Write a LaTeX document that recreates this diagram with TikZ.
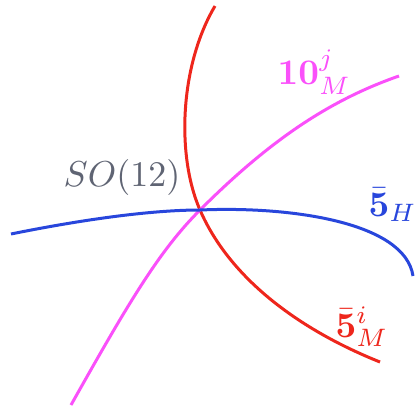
\documentclass[tikz,border=0pt]{standalone}
\usepackage{amsmath}
\definecolor{cred}{RGB}{238,38,28}
\definecolor{cmag}{RGB}{250,80,250}
\definecolor{cblue}{RGB}{40,70,220}
\definecolor{cgray}{RGB}{95,100,115}
\tikzset{curve/.style={line width=3pt},
  lbl/.style={scale=3.6, inner sep=0pt, anchor=base west}}
\begin{document}
\begin{tikzpicture}[x=1pt,y=-1pt]
\useasboundingbox (0,0) rectangle (417,408);
\coordinate (O) at (200,210);
\coordinate (rA) at (215,6);
\coordinate (rB) at (380,362);
\coordinate (mA) at (71,405);
\coordinate (mB) at (399,76);
\coordinate (bA) at (11,234);
\coordinate (bB) at (413,276);
\draw[curve,cred] (rA) .. controls (180,65) and (176,155) .. (O) .. controls (230,279) and (300,330) .. (rB);
\draw[curve,cmag] (mA) .. controls (130,300) and (160,250) .. (O) .. controls (270,140) and (330,100) .. (mB);
\draw[curve,cblue] (bA) .. controls (80,220) and (150,210) .. (O) .. controls (290,206) and (405,222) .. (bB);
\node[lbl,cgray] (so) at (63,186) {$SO(12)$};
\node[lbl,cmag] (ten) at (277,84) {$\mathbf{10}^j_M$};
\node[lbl,cblue] (fH) at (368,216) {$\bar{\mathbf{5}}_H$};
\node[lbl,cred] (fM) at (335,337) {$\bar{\mathbf{5}}^i_M$};
\end{tikzpicture}
\end{document}
